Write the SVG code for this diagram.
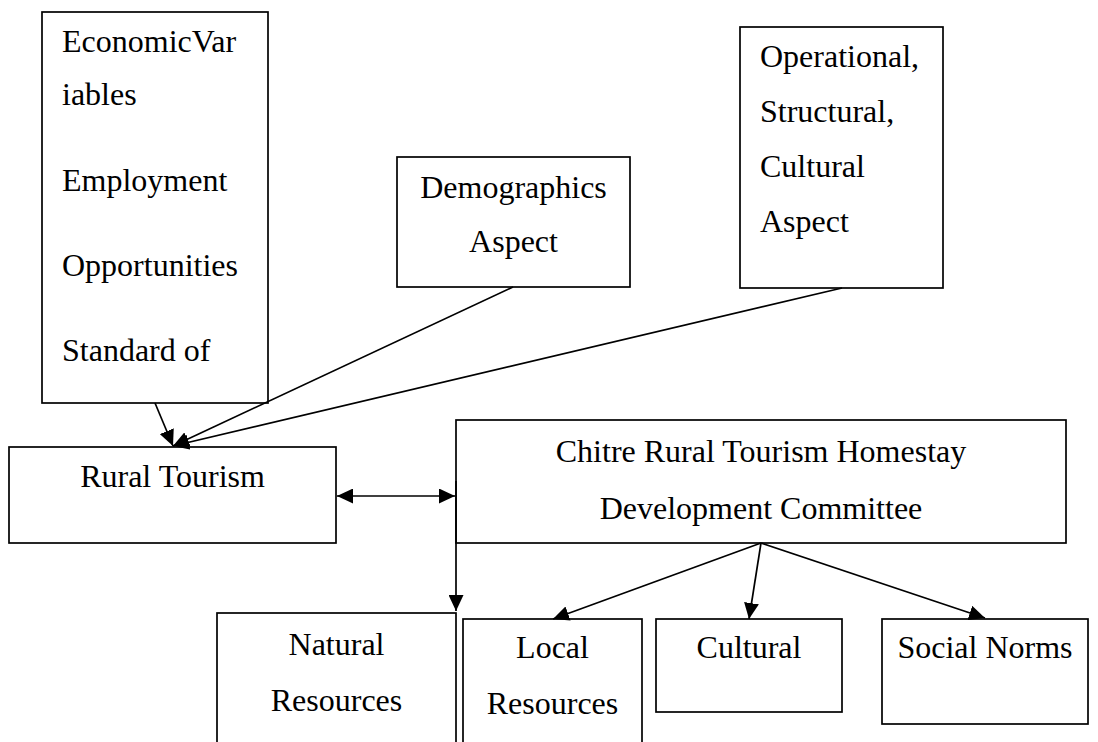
<svg xmlns="http://www.w3.org/2000/svg" width="1098" height="742" viewBox="0 0 1098 742">
<style>
.box{fill:#fff;stroke:#000;stroke-width:1.7}
.t{font-family:"Liberation Serif","Times New Roman",serif;font-size:32px;fill:#000}
.c{text-anchor:middle}
.ln{stroke:#000;stroke-width:1.7;fill:none}
</style>
<defs>
<marker id="ah" markerUnits="userSpaceOnUse" markerWidth="17" markerHeight="15" refX="16" refY="7.5" orient="auto-start-reverse">
<path d="M0,0 L16,7.5 L0,15 Z" fill="#000"/>
</marker>
</defs>
<rect width="1098" height="742" fill="#fff"/>
<g id="economic">
<rect class="box" x="42" y="12" width="226" height="391"/>
<text class="t" x="62" y="52">EconomicVar</text>
<text class="t" x="62" y="105">iables</text>
<text class="t" x="62" y="191">Employment</text>
<text class="t" x="62" y="276">Opportunities</text>
<text class="t" x="62" y="361">Standard of</text>
</g>
<g id="demographics">
<rect class="box" x="397" y="157" width="233" height="130"/>
<text class="t c" x="513.5" y="198">Demographics</text>
<text class="t c" x="513.5" y="252">Aspect</text>
</g>
<g id="operational">
<rect class="box" x="740" y="27" width="203" height="261"/>
<text class="t" x="760" y="67">Operational,</text>
<text class="t" x="760" y="122">Structural,</text>
<text class="t" x="760" y="177">Cultural</text>
<text class="t" x="760" y="232">Aspect</text>
</g>
<g id="rural">
<rect class="box" x="9" y="447" width="327" height="96"/>
<text class="t c" x="172.5" y="487">Rural Tourism</text>
</g>
<g id="committee">
<rect class="box" x="456" y="420" width="610" height="123"/>
<text class="t c" x="761" y="462">Chitre Rural Tourism Homestay</text>
<text class="t c" x="761" y="519">Development Committee</text>
</g>
<g id="natural">
<rect class="box" x="217" y="613" width="239" height="135"/>
<text class="t c" x="336.5" y="655">Natural</text>
<text class="t c" x="336.5" y="711">Resources</text>
</g>
<g id="local">
<rect class="box" x="463" y="619" width="179" height="130"/>
<text class="t c" x="552.5" y="658">Local</text>
<text class="t c" x="552.5" y="714">Resources</text>
</g>
<g id="cultural">
<rect class="box" x="656" y="619" width="186" height="93"/>
<text class="t c" x="749" y="658">Cultural</text>
</g>
<g id="social">
<rect class="box" x="882" y="619" width="206" height="105"/>
<text class="t c" x="985" y="658">Social Norms</text>
</g>
<g id="connectors">
<line class="ln" x1="155" y1="403" x2="173" y2="446" marker-end="url(#ah)"/>
<line class="ln" x1="513" y1="287" x2="173" y2="446" marker-end="url(#ah)"/>
<line class="ln" x1="842" y1="288" x2="173" y2="446" marker-end="url(#ah)"/>
<line class="ln" x1="337" y1="496" x2="455" y2="496" marker-start="url(#ah)" marker-end="url(#ah)"/>
<line class="ln" x1="456" y1="481" x2="456" y2="611" stroke-width="2.4" marker-end="url(#ah)"/>
<line class="ln" x1="761" y1="543" x2="553" y2="619" marker-end="url(#ah)"/>
<line class="ln" x1="761" y1="543" x2="749" y2="619" marker-end="url(#ah)"/>
<line class="ln" x1="761" y1="543" x2="985" y2="618" marker-end="url(#ah)"/>
</g>
</svg>
